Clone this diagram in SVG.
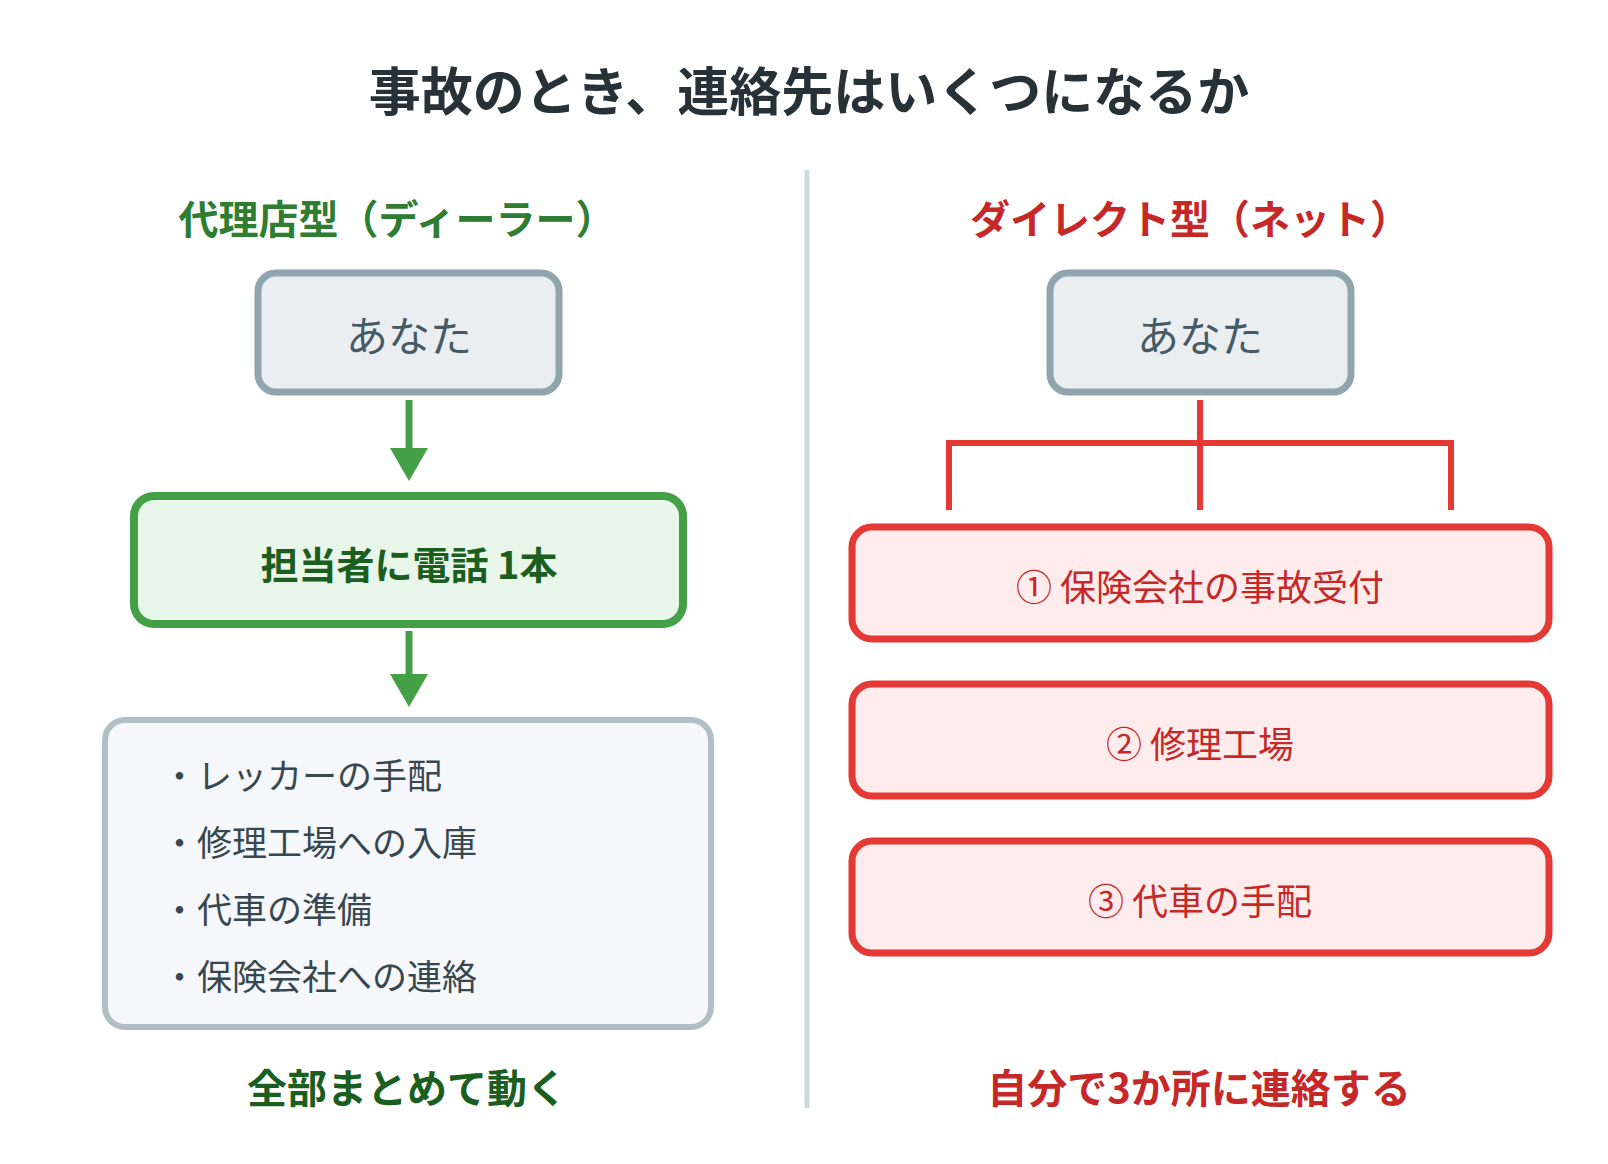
<svg xmlns="http://www.w3.org/2000/svg" width="1608" height="1164" viewBox="0 0 1608 1164">
<style>
text{font-family:"Noto Sans CJK JP","Noto Sans",sans-serif;text-anchor:middle;dominant-baseline:central}
.b{font-weight:bold}
.you{fill:#eaeef1;stroke:#90a4ae;stroke-width:7}
.red{fill:#fdeceb;stroke:#e53935;stroke-width:7}
.rt{fill:#c62828;font-size:36px}
</style>
<defs><marker id="ag" markerWidth="10" markerHeight="10" refX="5" refY="5" orient="auto" markerUnits="userSpaceOnUse" viewBox="0 0 10 10"><path d="M0,0L10,5L0,10z" fill="#43a047"/></marker></defs>
<rect width="1608" height="1164" fill="#fff"/>
<text x="809" y="88" class="b" font-size="52" fill="#263238">事故のとき、連絡先はいくつになるか</text>
<line x1="807" y1="170" x2="807" y2="1108" stroke="#cfd8dc" stroke-width="5"/>
<text x="397" y="217" class="b" font-size="40" fill="#2e7d32">代理店型（ディーラー）</text>
<text x="1190" y="217" class="b" font-size="40" fill="#c62828">ダイレクト型（ネット）</text>
<g id="connectors">
<path d="M409,400V452" stroke="#43a047" stroke-width="7"/><path d="M390,448H428L409,481z" fill="#43a047"/>
<path d="M409,631V680" stroke="#43a047" stroke-width="7"/><path d="M390,674H428L409,707z" fill="#43a047"/>
<path d="M1200,400V510M949,510V443H1451V510" fill="none" stroke="#e53935" stroke-width="6"/>
</g>
<g id="you-l"><rect x="258" y="273" width="301" height="119" rx="18" class="you"/><text x="409" y="333" font-size="42" fill="#455a64">あなた</text></g>
<g id="agent"><rect x="134" y="496" width="549" height="128" rx="20" fill="#e8f5e9" stroke="#43a047" stroke-width="8"/><text x="409" y="562" class="b" font-size="38" fill="#1b5e20">担当者に電話 1本</text></g>
<g id="list"><rect x="105" y="720" width="606" height="307" rx="20" fill="#f5f7fa" stroke="#b0bec5" stroke-width="6"/>
<g font-size="35" fill="#37474f" style="text-anchor:start"><text x="162" y="773" style="text-anchor:start">・レッカーの手配</text><text x="162" y="840" style="text-anchor:start">・修理工場への入庫</text><text x="162" y="907" style="text-anchor:start">・代車の準備</text><text x="162" y="974" style="text-anchor:start">・保険会社への連絡</text></g></g>
<text x="407" y="1086" class="b" font-size="40" fill="#1b5e20">全部まとめて動く</text>
<g id="you-r"><rect x="1050" y="273" width="301" height="119" rx="18" class="you"/><text x="1200" y="333" font-size="42" fill="#455a64">あなた</text></g>
<g id="r1"><rect x="852" y="527" width="697" height="112" rx="20" class="red"/><text x="1200" y="585" class="rt">① 保険会社の事故受付</text></g>
<g id="r2"><rect x="852" y="684" width="697" height="112" rx="20" class="red"/><text x="1200" y="742" class="rt">② 修理工場</text></g>
<g id="r3"><rect x="852" y="841" width="697" height="112" rx="20" class="red"/><text x="1200" y="899" class="rt">③ 代車の手配</text></g>
<text x="1199" y="1086" class="b" font-size="40" fill="#c62828">自分で3か所に連絡する</text>
</svg>
